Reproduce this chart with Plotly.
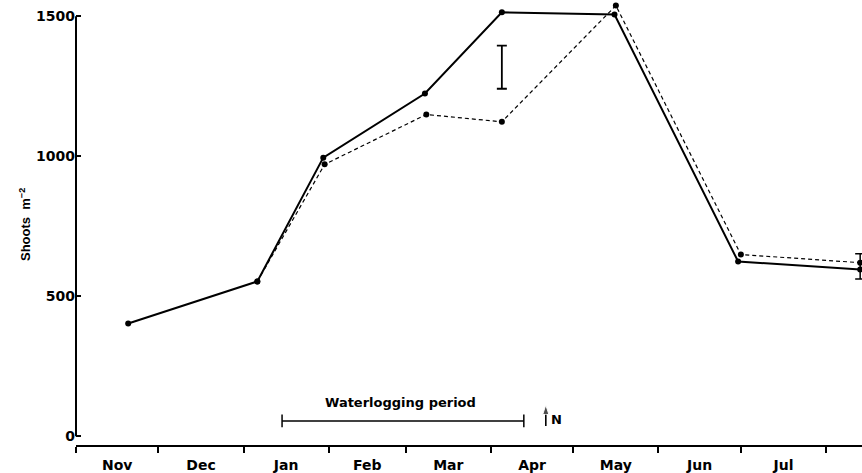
import plotly.graph_objects as go

# ---- data ----
solid_dates = ["1980-11-20", "1981-01-06", "1981-01-30", "1981-03-08",
               "1981-04-05", "1981-05-16", "1981-06-30", "1981-08-13 10:00"]
solid_vals = [403, 553, 995, 1224, 1514, 1506, 624, 596]

dashed_dates = ["1981-01-06", "1981-01-30 12:00", "1981-03-08 12:00", "1981-04-05",
                "1981-05-16 12:00", "1981-07-01", "1981-08-13 10:00"]
dashed_vals = [553, 971, 1149, 1123, 1538, 649, 620]

lsd_date = ["1981-04-05"]
lsd_center = [1318]
lsd_half = [77]

end_err_date = ["1981-08-13 10:00"]
end_err_center = [607]
end_err_half = [45]

waterlog_dates = ["1981-01-15", "1981-04-13"]
waterlog_level = [55, 55]
waterlog_label = "Waterlogging period"
waterlog_label_pos = ("1981-02-27", 122)

n_arrow_dates = ["1981-04-21", "1981-04-21"]
n_arrow_vals = [37, 112]
n_label = "N"
n_label_pos = ("1981-04-24 18:00", 59)

y_ticks = [0, 500, 1000, 1500]
x_range = ["1980-11-01", "1981-08-14 02:00"]
y_range = [-31, 1540]

FONT = "DejaVu Sans, sans-serif"
FONT2 = "Liberation Sans, Arial, sans-serif"

fig = go.Figure()

fig.add_trace(go.Scatter(
    x=dashed_dates, y=dashed_vals, mode="lines+markers",
    line=dict(color="black", width=1.2, dash="4px,3px"),
    marker=dict(color="black", size=6), cliponaxis=False, showlegend=False))

fig.add_trace(go.Scatter(
    x=solid_dates, y=solid_vals, mode="lines+markers",
    line=dict(color="black", width=2),
    marker=dict(color="black", size=6), cliponaxis=False, showlegend=False))

fig.add_trace(go.Scatter(
    x=lsd_date, y=lsd_center, mode="markers",
    marker=dict(size=1, color="rgba(0,0,0,0)"),
    error_y=dict(type="data", array=lsd_half, visible=True,
                 color="black", thickness=1.8, width=5),
    showlegend=False))

fig.add_trace(go.Scatter(
    x=end_err_date, y=end_err_center, mode="markers",
    marker=dict(size=1, color="rgba(0,0,0,0)"),
    error_y=dict(type="data", array=end_err_half, visible=True,
                 color="black", thickness=1.5, width=5),
    showlegend=False))

fig.add_trace(go.Scatter(
    x=waterlog_dates, y=waterlog_level, mode="lines+markers",
    line=dict(color="black", width=1.5),
    marker=dict(symbol="line-ns-open", size=9, color="black",
                line=dict(color="black", width=1.5)),
    showlegend=False))

# upward arrow marking N application
fig.add_trace(go.Scatter(
    x=n_arrow_dates, y=n_arrow_vals, mode="lines+markers",
    line=dict(color="black", width=1.6),
    marker=dict(symbol="arrow", angleref="previous", size=[0, 10],
                color="black"),
    showlegend=False))

# y axis line only from 0 to 1500
fig.add_shape(type="line", xref="paper", x0=0, x1=0, yref="y",
              y0=0, y1=1500, line=dict(color="black", width=2))

fig.add_annotation(x=waterlog_label_pos[0], y=waterlog_label_pos[1],
                   text=waterlog_label, showarrow=False,
                   font=dict(family=FONT, size=13, color="black", weight="bold"))

fig.add_annotation(x=n_label_pos[0], y=n_label_pos[1], text=n_label,
                   showarrow=False,
                   font=dict(family=FONT, size=13, color="black", weight="bold"))

fig.add_annotation(xref="paper", yref="paper", x=0, y=0.5, xshift=-61,
                   text="Shoots  m<sup>−2</sup>", textangle=-90,
                   showarrow=False,
                   font=dict(family=FONT2, size=13, color="black", weight="bold"))

fig.update_layout(
    width=862, height=473,
    margin=dict(l=76, r=0, t=5, b=26),
    paper_bgcolor="white", plot_bgcolor="white",
    showlegend=False,
    xaxis=dict(type="date", range=x_range, dtick="M1", tick0="1980-11-01",
               ticklabelmode="period", tickformat="%b",
               ticks="outside", ticklen=6, tickwidth=1.5, tickcolor="black",
               showline=True, linewidth=2, linecolor="black",
               showgrid=False, zeroline=False,
               tickfont=dict(family=FONT, size=14, color="black", weight="bold")),
    yaxis=dict(range=y_range, tickvals=y_ticks, ticks="inside", ticklen=5,
               tickwidth=2, tickcolor="black", showline=False,
               showgrid=False, zeroline=False,
               tickfont=dict(family=FONT, size=14, color="black", weight="bold")),
)

fig.write_html("out.html")
